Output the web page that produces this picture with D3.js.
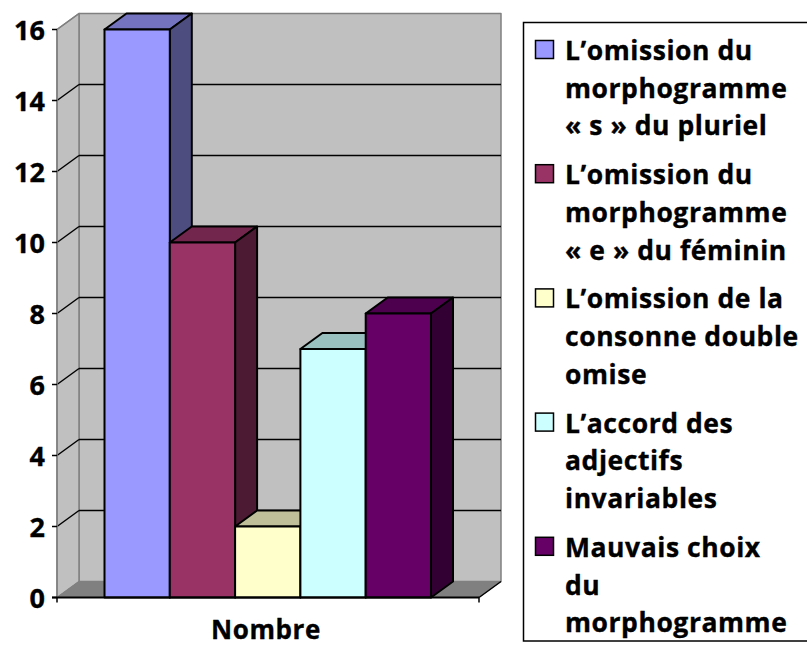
<!DOCTYPE html>
<html><head><meta charset="utf-8">
<script src="https://cdn.jsdelivr.net/npm/d3@7/dist/d3.min.js"></script>
<style>html,body{margin:0;padding:0;background:#fff}svg{display:block}
text{font-family:"Open Sans",sans-serif;font-weight:700;fill:#000;stroke:#000;stroke-width:.35px}</style></head>
<body><svg id="c" width="807" height="646"></svg>
<script>
const seriesNames=[
 ["L’omission du","morphogramme","« s » du pluriel"],
 ["L’omission du","morphogramme","« e » du féminin"],
 ["L’omission de la","consonne double","omise"],
 ["L’accord des","adjectifs","invariables"],
 ["Mauvais choix","du","morphogramme"]];
const seriesValues=[16,10,2,7,8];
const seriesColors=["#9999ff","#993366","#ffffcc","#ccffff","#660066"];
const yTicks=[0,2,4,6,8,10,12,14,16];
const categoryLabel="Nombre";

const svg=d3.select("#c");
const y=d3.scaleLinear().domain([0,16]).range([597.5,29.5]);
const xFront=d3.scaleLinear().domain([0,1]).range([57,479]);
const bar=d3.scaleBand().domain(d3.range(seriesValues.length)).range([104.5,431]);
const dx=22,dy=-16;
const poly=(pts,fill,stroke,sw)=>svg.append("polygon").attr("points",pts.map(p=>p.join(",")).join(" "))
  .attr("fill",fill).attr("stroke",stroke).attr("stroke-width",sw).attr("stroke-linejoin","round");
const L=xFront(0),R=xFront(1),B=y(0),T=y(16);
poly([[L+dx,T+dy],[R+dx,T+dy],[R+dx,B+dy],[L+dx,B+dy]],"#c0c0c0","#808080",1.5);
poly([[L,T],[L+dx,T+dy],[L+dx,B+dy],[L,B]],"#c0c0c0","#808080",1.5);
poly([[L,B],[L+dx,B+dy],[R+dx,B+dy],[R,B]],"#808080","#808080",1);
yTicks.forEach(t=>{
  const v=y(t);
  if(t>0&&t<16) svg.append("line").attr("x1",L+dx).attr("x2",R+dx).attr("y1",v+dy).attr("y2",v+dy).attr("stroke","#000").attr("stroke-width",1.5);
  if(t>0&&t<=16) svg.append("line").attr("x1",L).attr("x2",L+dx).attr("y1",v).attr("y2",v+dy).attr("stroke",t<16?"#000":"#808080").attr("stroke-width",1.5);
});
const shade=(c,k)=>{const r=d3.rgb(c);return d3.rgb(r.r*k,r.g*k,r.b*k).formatHex();};
seriesValues.forEach((val,i)=>{
  const x0=bar(i),x1=x0+bar.bandwidth(),yt=y(val),c=seriesColors[i];
  poly([[x0,yt],[x0+dx,yt+dy],[x1+dx,yt+dy],[x1,yt]],shade(c,.75),"#000",2);
  poly([[x1,yt],[x1+dx,yt+dy],[x1+dx,B+dy],[x1,B]],shade(c,.5),"#000",2);
  poly([[x0,yt],[x1,yt],[x1,B],[x0,B]],c,"#000",2);
});
svg.append("line").attr("x1",L).attr("x2",L).attr("y1",T).attr("y2",B).attr("stroke","#808080").attr("stroke-width",1.5);
svg.append("line").attr("x1",L-5).attr("x2",R).attr("y1",B).attr("y2",B).attr("stroke","#000").attr("stroke-width",2);
svg.append("line").attr("x1",R).attr("x2",R).attr("y1",B).attr("y2",B+5).attr("stroke","#000").attr("stroke-width",1.5);
svg.append("line").attr("x1",L).attr("x2",L).attr("y1",B).attr("y2",B+5).attr("stroke","#000").attr("stroke-width",1.5);
svg.append("line").attr("x1",R).attr("x2",R+dx).attr("y1",B).attr("y2",B+dy).attr("stroke","#000").attr("stroke-width",1.5);
yTicks.forEach(t=>{
  svg.append("line").attr("x1",L-5).attr("x2",L).attr("y1",y(t)).attr("y2",y(t)).attr("stroke","#000").attr("stroke-width",1.5);
  svg.append("text").attr("x",45).attr("y",y(t)+10).attr("text-anchor","end").attr("font-size",27).text(t);
});
svg.append("text").attr("x",266).attr("y",638.5).attr("text-anchor","middle").attr("font-size",26).attr("letter-spacing",.6).text(categoryLabel);
svg.append("rect").attr("x",523.5).attr("y",22.5).attr("width",300).attr("height",618.5).attr("fill","#fff").attr("stroke","#000").attr("stroke-width",1.5);
const ly=d3.scaleLinear().domain([0,1]).range([60,184.2]);
seriesNames.forEach((lines,i)=>{
  const b=ly(i);
  svg.append("rect").attr("x",535.5).attr("y",b-19.5).attr("width",18).attr("height",18).attr("fill",seriesColors[i]).attr("stroke","#000").attr("stroke-width",1.5);
  lines.forEach((s,j)=>svg.append("text").attr("x",565).attr("y",b+j*37.7).attr("font-size",26.5).attr("letter-spacing",.55).text(s));
});
</script></body></html>
